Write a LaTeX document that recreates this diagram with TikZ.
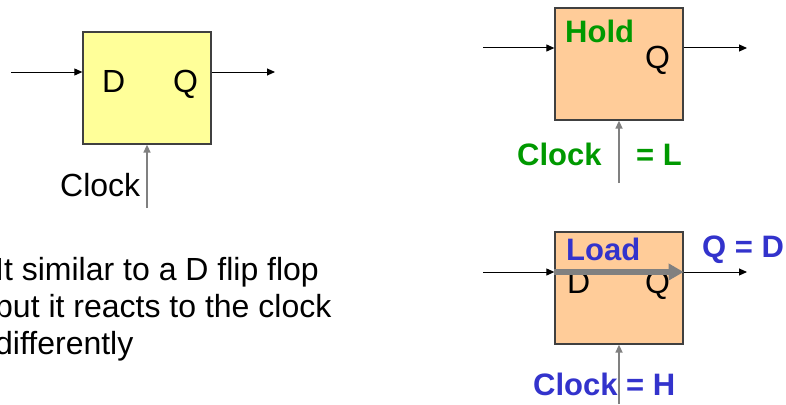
\documentclass[tikz,border=0pt]{standalone}
\usepackage{fontspec}
\setmainfont{Liberation Sans}
\usetikzlibrary{arrows.meta}
\definecolor{latchyellow}{HTML}{FFFF99}
\definecolor{latchpeach}{HTML}{FFCC99}
\definecolor{holdgreen}{HTML}{009900}
\definecolor{loadblue}{HTML}{3333CC}
\definecolor{edgegray}{HTML}{404040}
\definecolor{clkgray}{HTML}{808080}
\begin{document}
\begin{tikzpicture}[x=1pt,y=-1pt,
  latchbox/.style={draw=edgegray, line width=1.3pt, minimum width=128pt,
                   minimum height=112pt, inner sep=0pt},
  lbl/.style={anchor=base west, inner sep=0pt, font=\fontsize{32}{38}\selectfont},
  boldlbl/.style={lbl, font=\fontsize{31}{37}\selectfont\bfseries},
  sig/.style={line width=1pt, -{Triangle[length=8pt,width=7pt]}},
  clk/.style={draw=clkgray, line width=1.6pt, -{Triangle[length=8pt,width=7pt]}},
  flow/.style={draw=clkgray, line width=6pt, -{Triangle[length=15pt,width=16pt]}}]
\useasboundingbox (0,0) rectangle (786,404);
\clip (0,0) rectangle (786,404);

% generic latch
\node[latchbox, fill=latchyellow] (b1) at (147,88) {};
\node[lbl] (d1) at (102,92) {D};
\node[lbl] (q1) at (173,92) {Q};
\node[lbl] (c1) at (60,196) {Clock};
\coordinate (in1) at (11,72);
\coordinate (out1) at (275,72);
\coordinate (ck1) at (147,208);
\draw[sig] (in1) -- (in1 -| b1.west);
\draw[sig] (out1 -| b1.east) -- (out1);
\draw[clk] (ck1) -- (b1.south);

% description
\node[lbl] (t1) at (-5,280) {It similar to a D flip flop};
\node[lbl] (t2) at (-5,317) {but it reacts to the clock};
\node[lbl] (t3) at (-5,354) {differently};

% clock low: hold
\node[latchbox, fill=latchpeach] (b2) at (619,64) {};
\node[boldlbl, text=holdgreen] (hold) at (565,43) {Hold};
\node[lbl] (q2) at (645,68) {Q};
\node[boldlbl, text=holdgreen] (c2) at (517,165) {Clock};
\node[boldlbl, text=holdgreen] (l2) at (636,165) {= L};
\coordinate (in2) at (483,48);
\coordinate (out2) at (747,48);
\coordinate (ck2) at (619,183);
\draw[sig] (in2) -- (in2 -| b2.west);
\draw[sig] (out2 -| b2.east) -- (out2);
\draw[clk] (ck2) -- (b2.south);

% clock high: load
\node[latchbox, fill=latchpeach] (b3) at (619,288) {};
\node[boldlbl, text=loadblue] (load) at (566,260) {Load};
\node[lbl] (d3) at (567,293) {D};
\node[lbl] (q3) at (645,293) {Q};
\node[boldlbl, text=loadblue] (qd) at (702,257) {Q = D};
\node[boldlbl, text=loadblue] (c3) at (533,395) {Clock = H};
\coordinate (in3) at (483,272);
\coordinate (out3) at (747,272);
\coordinate (ck3) at (619,404);
\draw[sig] (in3) -- (in3 -| b3.west);
\draw[sig] (out3 -| b3.east) -- (out3);
\draw[clk] (ck3) -- (b3.south);
\draw[flow] (in3 -| b3.west) -- (in3 -| b3.east);
\end{tikzpicture}
\end{document}
